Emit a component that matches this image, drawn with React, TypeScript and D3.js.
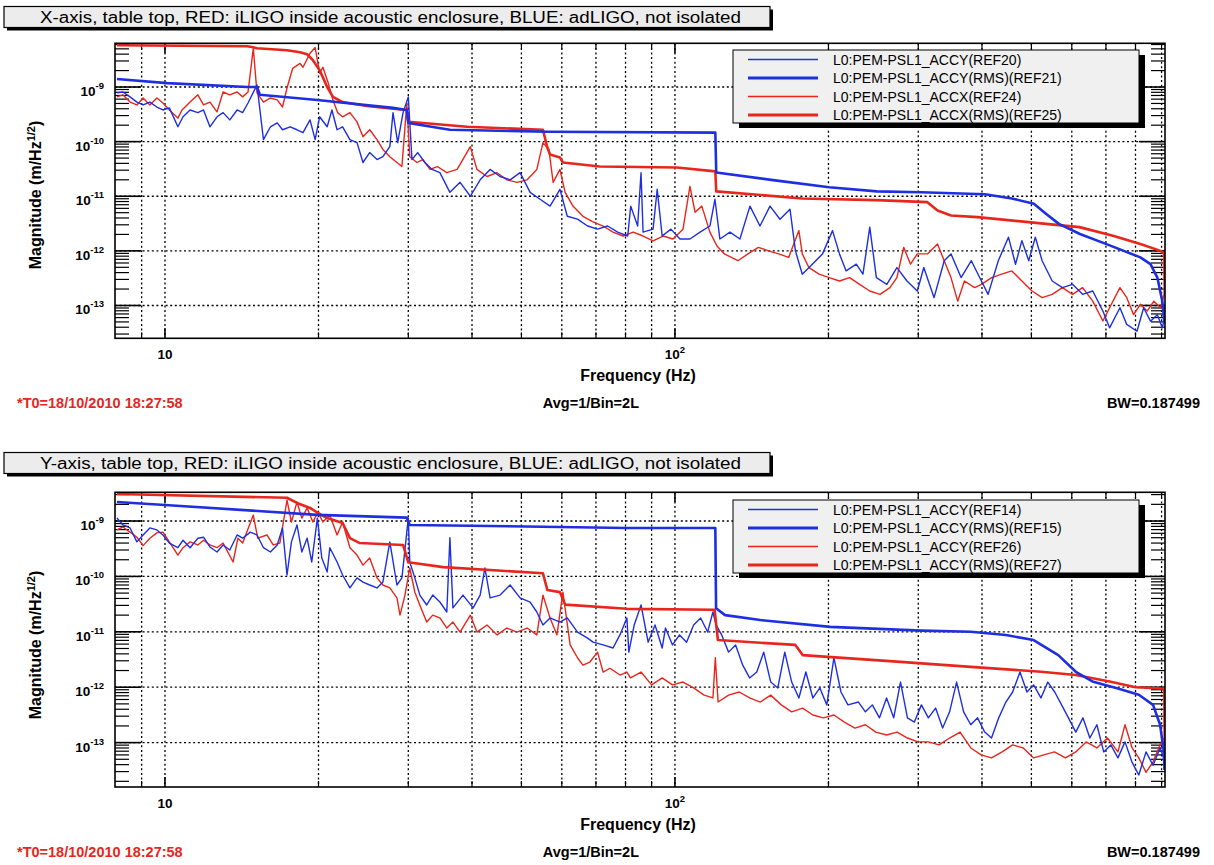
import React from "react";
import * as d3 from "d3";

type Pt = [number, number];

const FONT = "'Liberation Sans', Arial, Helvetica, sans-serif";
const BLUE = "#1d2fe0";
const RED = "#e8261c";

// ---------------- Panel 1 (X-axis) data: [frequency Hz, magnitude] ----------------
const xRef20: Pt[] = [
  [8.05,7.8e-10],[8.27,8.1e-10],[8.54,6.6e-10],[8.81,5.3e-10],[9.06,4.7e-10],[9.34,5.3e-10],[9.64,4.3e-10],[9.91,3.8e-10],
  [10.2,4.15e-10],[10.6,1.87e-10],[10.85,2.85e-10],[11.2,3.8e-10],[11.6,3.4e-10],[11.9,3.8e-10],[12.25,1.87e-10],[12.65,2.85e-10],
  [13.0,3.4e-10],[13.4,2.5e-10],[13.85,3.8e-10],[14.2,3.4e-10],[14.55,5.1e-10],[15.15,1.09e-9],[15.6,1.09e-10],[16.1,1.87e-10],
  [16.6,2.2e-10],[17.0,1.65e-10],[17.6,1.87e-10],[18.15,1.65e-10],[18.65,1.46e-10],[19.25,2.5e-10],[19.7,1.09e-10],[20.1,2.85e-10],
  [20.8,1.87e-10],[21.25,3.8e-10],[21.75,1.65e-10],[22.3,1.87e-10],[23.05,1.09e-10],[23.8,9.6e-11],[24.45,4.15e-11],[25.2,6.3e-11],
  [26.05,4.7e-11],[26.75,5.3e-11],[27.6,8.1e-11],[28.0,3.4e-10],[28.6,9.6e-11],[29.3,3.4e-10],[30.0,6.6e-10],[30.5,4.7e-11],
  [31.3,6.3e-11],[32.35,4.15e-11],[33.4,3.1e-11],[34.6,2.7e-11],[36.2,1.18e-11],[37.9,1.8e-11],[39.7,1.0e-11],[41.5,2.0e-11],
  [43.4,3.1e-11],[45.4,2.3e-11],[47.5,2.0e-11],[49.7,2.7e-11],[52.0,1.18e-11],[54.4,8.8e-12],[56.9,6.6e-12],[59.5,1.34e-11],
  [61.5,4.3e-12],[64.4,3.8e-12],[67.4,2.85e-12],[70.5,2.5e-12],[73.8,2.85e-12],[77.2,2.2e-12],[80.8,1.87e-12],[81.9,6.6e-12],
  [84.5,2.85e-12],[85.8,2.7e-11],[86.6,2.2e-12],[90.6,2.5e-12],[92.3,1.34e-11],[94.4,1.87e-12],[98.2,2.5e-12],[102.3,1.65e-12],
  [107.0,1.65e-12],[112.0,2.2e-12],[117.1,2.85e-12],[119.8,8.8e-12],[122.5,1.65e-12],[128.2,2.2e-12],[134.1,1.65e-12],[140.3,6.6e-12],
  [146.8,2.85e-12],[153.6,6.6e-12],[160.7,3.8e-12],[168.1,5.8e-12],[172.3,1.0e-12],[177.7,3.74e-13],[185.9,5.7e-13],[194.7,8.8e-13],
  [203.7,2.35e-12],[210.2,8.8e-13],[216.6,4.3e-13],[226.8,5.7e-13],[233.7,3.74e-13],[241,2.72e-12],[248.3,3.24e-13],[260.3,2.44e-13],
  [272.4,4.95e-13],[285.1,2.81e-13],[298.7,1.84e-13],[307.6,4.95e-13],[322.2,1.39e-13],[337.3,6.6e-13],[347.8,8.8e-13],[364,3.24e-13],
  [381.2,6.6e-13],[399,2.81e-13],[411.2,1.6e-13],[430.6,6.6e-13],[450.8,1.78e-12],[465.4,5.7e-13],[479,1.54e-12],[494,6.6e-13],
  [509,1.78e-12],[524.8,6.6e-13],[549.3,2.81e-13],[575.1,2.12e-13],[602,2.44e-13],[630.1,1.6e-13],[659.6,1.84e-13],[690.5,7.9e-14],
  [711.7,3.9e-14],[745.8,9.1e-14],[769,4.5e-14],[805.4,3.37e-14],[830,9.1e-14],[856.1,5.16e-14],[883,6.8e-14],[903,3.9e-14],[911,5.6e-14],
];

const xRef21: Pt[] = [
  [8.05,1.4e-9],[10.1,1.18e-9],[14.5,1.0e-9],[15.15,1.0e-9],[15.35,7.2e-10],[19.9,5.8e-10],[28.0,4.15e-10],[29.8,3.8e-10],
  [30.0,2.2e-10],[36.2,1.65e-10],[56.2,1.52e-10],[120,1.46e-10],[120.5,2.73e-11],[157.1,1.95e-11],[200.6,1.46e-11],[248.8,1.23e-11],
  [303.7,1.18e-11],[405.4,1.09e-11],[457.7,9.1e-12],[505.6,7.3e-12],[534,4.77e-12],[566,3.12e-12],[622.6,2.04e-12],[701.8,1.33e-12],
  [817.8,7.6e-13],[856.1,5.7e-13],[883,3.24e-13],[903,1.2e-13],[911,5.2e-14],
];

const xRef24: Pt[] = [
  [8.05,6.6e-10],[8.27,7.2e-10],[8.54,5.3e-10],[8.81,4.7e-10],[9.06,6.3e-10],[9.34,4.7e-10],[9.64,6.3e-10],[9.91,5.1e-10],
  [10.2,3.8e-10],[10.6,2.7e-10],[10.8,3.8e-10],[11.2,5.3e-10],[11.6,7.2e-10],[11.9,4.7e-10],[12.25,5.3e-10],[12.65,3.5e-10],
  [13.0,8.1e-10],[13.4,7.2e-10],[13.85,8.1e-10],[14.2,6.6e-10],[14.55,8.1e-10],[14.9,5.1e-9],[15.15,7.8e-10],[15.6,5.3e-10],
  [16.1,6.3e-10],[16.6,5.8e-10],[17.0,4.3e-10],[17.35,9.6e-10],[17.8,2.2e-9],[18.4,2.7e-9],[18.65,2.3e-9],[19.25,4.15e-9],
  [19.7,5.3e-9],[20.1,1.8e-9],[20.4,2.3e-9],[20.9,1.18e-9],[21.35,5.8e-10],[21.8,3.4e-10],[22.3,2.85e-10],[23.05,3.4e-10],
  [23.8,2.3e-10],[24.45,1.23e-10],[25.2,1.65e-10],[26.05,1.09e-10],[26.75,7.2e-11],[27.6,5.3e-11],[28.5,4.15e-11],[29.15,3.5e-11],
  [29.8,5.1e-10],[30.2,5.3e-11],[31.2,4.15e-11],[32.0,4.7e-11],[33.1,3.1e-11],[34.2,3.5e-11],[35.7,2.7e-11],[37.4,3.1e-11],
  [39.7,8.1e-11],[40.9,3.1e-11],[42.8,2.3e-11],[44.8,2.7e-11],[46.8,2.0e-11],[49.0,1.8e-11],[51.3,2.0e-11],[53.6,3.1e-11],
  [55.1,9.6e-11],[56.6,7.2e-11],[57.7,1.8e-11],[59.5,3.1e-11],[60.9,1.18e-11],[63.1,6.6e-12],[66.0,4.3e-12],[69.1,3.4e-12],
  [72.3,2.85e-12],[75.6,2.2e-12],[79.1,1.87e-12],[82.8,2.2e-12],[86.6,1.87e-12],[90.6,1.52e-12],[94.8,1.87e-12],[99.1,1.65e-12],
  [103.7,2.5e-12],[107,1.52e-11],[109.5,5.1e-12],[112.9,6.6e-12],[117.1,2.2e-12],[120.9,1.23e-12],[125,8.8e-13],[132.9,6.6e-13],
  [139,8.8e-13],[145.8,1.16e-12],[152.5,1.0e-12],[159.7,8.8e-13],[167.1,7.6e-13],[175,2.35e-12],[177.7,8.8e-13],[183.1,4.95e-13],
  [191.7,3.74e-13],[200.6,3.24e-13],[210.2,2.81e-13],[220,3.24e-13],[230.2,2.44e-13],[241,1.84e-13],[252.4,1.6e-13],[264,2.12e-13],
  [272.4,3.24e-13],[280.9,1.16e-12],[289.7,5.7e-13],[298.7,8.8e-13],[312.6,8.8e-13],[327.2,1.33e-12],[337.3,6.6e-13],[347.8,3.24e-13],
  [358.5,1.2e-13],[369.5,2.81e-13],[387,2.12e-13],[399,2.44e-13],[417.8,3.24e-13],[437.2,3.74e-13],[457.7,4.3e-13],[479,2.81e-13],
  [501.4,1.84e-13],[524.8,1.39e-13],[549.3,1.6e-13],[575.1,2.12e-13],[602,1.6e-13],[630.1,2.12e-13],[659.6,1.2e-13],[690.5,5.2e-14],
  [711.7,9.1e-14],[745.8,2.12e-13],[769,1.39e-13],[793,6.8e-14],[817.8,1.05e-13],[843.2,7.9e-14],[869.2,1.2e-13],[896,9.1e-14],[911,1.6e-13],
];

const xRef25: Pt[] = [
  [8.05,5.8e-9],[14.5,5.56e-9],[14.9,5.34e-9],[15.15,5.12e-9],[17.35,4.71e-9],[18.4,4.33e-9],[19.0,3.98e-9],[19.5,3.1e-9],
  [20.1,2.04e-9],[20.8,1.0e-9],[21.35,6.6e-10],[22.3,5.3e-10],[24.9,4.5e-10],[28.0,4.0e-10],[29.8,3.8e-10],[30.0,2.31e-10],
  [39.1,1.87e-10],[55.1,1.65e-10],[56.2,7.8e-11],[56.9,5.8e-11],[59.5,5.1e-11],[60.3,4.15e-11],[71.2,3.5e-11],[100.9,3.37e-11],
  [120,2.85e-11],[120.5,1.23e-11],[177.7,9.1e-12],[248.8,8.5e-12],[312.6,7.8e-12],[327.2,5.5e-12],[347.8,4.44e-12],[392,4.15e-12],
  [534,3.12e-12],[621,2.72e-12],[722.7,1.9e-12],[817.8,1.33e-12],[896,1.0e-12],[911,8.8e-13],[913,1.5e-13],
];

// ---------------- Panel 2 (Y-axis) data ----------------
const yRef14: Pt[] = [
  [8.05,1.13e-9],[8.27,8.5e-10],[8.54,7.5e-10],[8.81,4.2e-10],[9.06,5.6e-10],[9.34,7.5e-10],[9.64,6.9e-10],[9.91,5.6e-10],
  [10.2,4.0e-10],[10.6,3.3e-10],[10.85,4.5e-10],[11.2,3.3e-10],[11.6,4.9e-10],[11.9,5.1e-10],[12.25,3.4e-10],[12.65,2.76e-10],
  [13.0,3.7e-10],[13.4,3.0e-10],[13.85,5.6e-10],[14.2,4.9e-10],[14.7,6.3e-10],[15.15,5.6e-10],[15.6,3.3e-10],[16.1,2.76e-10],
  [16.6,3.7e-10],[17.0,7.5e-10],[17.35,1.06e-10],[17.7,4.2e-10],[18.15,8.5e-10],[18.55,2.76e-10],[19.0,4.9e-10],[19.4,1.82e-10],
  [19.9,1.13e-9],[20.3,2.15e-10],[20.8,1.2e-10],[21.05,3.3e-10],[21.75,1.82e-10],[22.3,1.06e-10],[23.05,6.2e-11],[23.8,9.4e-11],
  [24.45,7.9e-11],[25.2,7.0e-11],[26.05,6.2e-11],[26.75,7.9e-11],[27.6,4.2e-10],[28.5,7.0e-11],[29.15,9.4e-11],[30.0,1.13e-9],
  [30.2,1.82e-10],[30.9,9.4e-11],[31.6,4.6e-11],[32.6,3.05e-11],[33.5,4.6e-11],[34.6,3.45e-11],[35.7,2.28e-11],[36.2,5.0e-10],
  [36.7,2.7e-11],[38.4,4.6e-11],[40.2,2.7e-11],[41.5,4.6e-11],[42.4,1.42e-10],[43.4,4.1e-11],[45.4,4.6e-11],[47.5,7.0e-11],
  [49.7,4.1e-11],[52.0,3.45e-11],[53.6,2.28e-11],[55.1,1.33e-11],[56.9,1.78e-11],[59.5,1.5e-11],[61.5,1.78e-11],[64.4,9.9e-12],
  [67.4,7.7e-12],[69.1,6.5e-12],[72.3,5.8e-12],[75.6,5.1e-12],[78.0,8.8e-12],[80.5,1.78e-11],[81.2,4.3e-12],[83.2,1.33e-11],
  [85.8,3.05e-11],[88.6,6.5e-12],[91.4,1.33e-11],[94.4,5.1e-12],[95.8,1.17e-11],[98.9,5.8e-12],[102.1,8.8e-12],[105.4,6.5e-12],
  [108.8,1.33e-11],[112.3,1.78e-11],[115.9,9.9e-12],[118.7,2.28e-11],[120.4,1.33e-11],[123.5,8.8e-12],[127.4,4.3e-12],[131.5,5.8e-12],
  [135.8,2.5e-12],[140.1,1.47e-12],[144.7,1.88e-12],[149.3,4.3e-12],[154.1,1.24e-12],[159.1,9.7e-13],[164.2,4.3e-12],[169.4,1.24e-12],
  [175,6.4e-13],[180.6,1.88e-12],[186.4,6.4e-13],[192.4,9.7e-13],[198.5,4.8e-13],[205,3.4e-12],[211.6,8.2e-13],[218.4,4.8e-13],
  [229,5.4e-13],[236.3,3.6e-13],[243.8,4.8e-13],[251.8,2.8e-13],[260,6.4e-13],[268.5,2.8e-13],[276.9,1.24e-12],[285.7,2.8e-13],
  [294.8,2.35e-13],[304.3,4.8e-13],[314,2.8e-13],[324.4,4.2e-13],[334.9,1.83e-13],[345.6,3.6e-13],[356.7,1.24e-12],[368.2,3.6e-13],
  [380.3,2.1e-13],[392.1,2.8e-13],[405,1.55e-13],[417.6,1.21e-13],[431.4,2.8e-13],[445.6,5.4e-13],[459.4,8.2e-13],[474.9,1.88e-12],
  [490,8.2e-13],[505,1.1e-12],[522,6.4e-13],[538.5,1.24e-12],[555.5,8.2e-13],[573,4.8e-13],[591,2.8e-13],[611,1.55e-13],
  [631,2.8e-13],[651,1.21e-13],[672,2.1e-13],[693,6.8e-14],[715.6,9.1e-14],[739,5.3e-14],[763,1.03e-13],[787,4.5e-14],
  [812,2.6e-14],[839,6.8e-14],[866,3.9e-14],[894,8.0e-14],[909,5.3e-14],
];

const yRef15: Pt[] = [
  [8.05,2.2e-9],[10,1.95e-9],[19.9,1.29e-9],[29.8,1.15e-9],[30.2,8.5e-10],[80.5,7.5e-10],[120,7.5e-10],[120.4,2.67e-11],
  [125.4,2.0e-11],[147,1.63e-11],[201.6,1.23e-11],[304.3,1.05e-11],[380.3,1.0e-11],[445.6,8.75e-12],[505,7.1e-12],[564.5,3.8e-12],
  [611,1.9e-12],[661,1.25e-12],[739,9.5e-13],[812,7.3e-13],[866,4.8e-13],[894,2.1e-13],[909,6.9e-14],[912,3.2e-14],
];

const yRef26: Pt[] = [
  [8.05,6.9e-10],[8.27,7.8e-10],[8.54,6.3e-10],[8.81,5.1e-10],[9.06,3.6e-10],[9.34,4.9e-10],[9.64,6.1e-10],[9.91,6.3e-10],
  [10.2,4.2e-10],[10.6,2.43e-10],[10.85,3.3e-10],[11.2,4.2e-10],[11.6,3.7e-10],[11.9,4.5e-10],[12.25,3.7e-10],[12.65,3.3e-10],
  [13.0,4.0e-10],[13.6,1.82e-10],[13.9,4.9e-10],[14.2,4.0e-10],[14.9,1.28e-9],[15.2,4.9e-10],[15.85,5.6e-10],[16.3,3.7e-10],
  [16.8,4.0e-10],[17.35,2.39e-9],[17.7,9.6e-10],[18.15,2.2e-9],[18.55,1.13e-9],[19.0,1.72e-9],[19.5,9.6e-10],[19.95,1.45e-9],
  [20.4,9.6e-10],[21.05,1.28e-9],[21.75,5.6e-10],[22.3,9.6e-10],[23.05,3.3e-10],[23.8,2.43e-10],[24.45,1.6e-10],[25.2,2.15e-10],
  [26.05,9.4e-11],[26.75,7.0e-11],[27.6,6.2e-11],[28.5,4.1e-11],[28.9,2.0e-11],[29.55,4.6e-11],[30.2,1.42e-10],[30.9,5.2e-11],
  [31.6,3.05e-11],[32.6,1.5e-11],[33.5,2.0e-11],[34.6,1.78e-11],[35.7,1.17e-11],[36.7,1.5e-11],[37.9,9.9e-12],[39.7,2.0e-11],
  [40.9,9.9e-12],[42.8,1.33e-11],[44.8,8.8e-12],[46.8,1.17e-11],[49.0,9.9e-12],[51.3,1.17e-11],[53.6,8.8e-12],[55.1,4.6e-11],
  [56.9,1.78e-11],[58.7,8.8e-12],[60.3,5.2e-11],[62.3,5.8e-12],[64.4,3.4e-12],[66.0,2.5e-12],[68.1,2.85e-12],[70.5,4.3e-12],
  [72.3,1.88e-12],[74.6,2.2e-12],[78.0,1.66e-12],[80.5,1.88e-12],[81.8,1.47e-12],[85.8,1.88e-12],[90.0,1.1e-12],[94.4,1.47e-12],
  [98.9,1.1e-12],[103.7,1.24e-12],[108.8,9.7e-13],[114.1,7.2e-13],[118.7,6.4e-13],[120,3.4e-12],[121.5,5.4e-13],[127.4,7.2e-13],
  [133.7,8.2e-13],[140.1,6.4e-13],[147,5.4e-13],[154.1,7.2e-13],[161.6,4.8e-13],[169.4,3.6e-13],[178,4.2e-13],[186.4,3.15e-13],
  [195.4,2.8e-13],[205,3.15e-13],[214.9,2.35e-13],[225.4,1.83e-13],[236.3,2.1e-13],[247.7,1.55e-13],[260,1.37e-13],[272.6,1.55e-13],
  [285.7,1.21e-13],[299.6,1.03e-13],[314,1.03e-13],[329.6,9.1e-14],[345.6,1.21e-13],[362.4,1.55e-13],[380.3,8.0e-14],[398.5,6.0e-14],
  [417.6,5.3e-14],[438,6.8e-14],[459.4,9.1e-14],[482,8.0e-14],[505,5.3e-14],[529,6.0e-14],[555,6.8e-14],[583,5.3e-14],
  [611,6.8e-14],[640,1.03e-13],[672,8.0e-14],[705,1.21e-13],[739,6.8e-14],[763,2.1e-13],[788,8.0e-14],[812,5.3e-14],
  [839,2.9e-14],[866,4.5e-14],[894,9.1e-14],[909,1.21e-13],
];

const yRef27: Pt[] = [
  [8.05,3.07e-9],[17.35,2.63e-9],[18.15,2.12e-9],[19.25,1.72e-9],[19.95,1.4e-9],[20.8,1.13e-9],[22.3,9.2e-10],[23.05,4.9e-10],
  [24.1,4.0e-10],[29.3,3.7e-10],[30.0,1.8e-10],[35.1,1.47e-10],[55.1,1.14e-10],[56.2,5.7e-11],[59.5,5.2e-11],[60.9,3.1e-11],
  [80.5,2.6e-11],[119.6,2.5e-11],[121.4,7.1e-12],[172.2,5.8e-12],[178,3.8e-12],[276.9,2.87e-12],[380.3,2.33e-12],[522,1.9e-12],
  [611,1.66e-12],[715.6,1.25e-12],[800,1.0e-12],[900,9.5e-13],[911,9.5e-13],[913,9e-14],
];

// ---------------- texts and axis values ----------------
const titleTop = "X-axis, table top, RED: iLIGO inside acoustic enclosure, BLUE: adLIGO, not isolated";
const titleBottom = "Y-axis, table top, RED: iLIGO inside acoustic enclosure, BLUE: adLIGO, not isolated";
const legendTop = ["L0:PEM-PSL1_ACCY(REF20)", "L0:PEM-PSL1_ACCY(RMS)(REF21)", "L0:PEM-PSL1_ACCX(REF24)", "L0:PEM-PSL1_ACCX(RMS)(REF25)"];
const legendBottom = ["L0:PEM-PSL1_ACCY(REF14)", "L0:PEM-PSL1_ACCY(RMS)(REF15)", "L0:PEM-PSL1_ACCY(REF26)", "L0:PEM-PSL1_ACCY(RMS)(REF27)"];
const xTickLabels = [{ v: 10, exp: "" }, { v: 100, exp: "2" }];
const yDecadeExps = [-9, -10, -11, -12, -13];
const xDomain: [number, number] = [7.98, 914];
const yDomainTop: [number, number] = [2.507e-14, 6.316e-9];
const yDomainBottom: [number, number] = [1.58e-14, 3.3e-9];
const footerLeft = "*T0=18/10/2010 18:27:58";
const footerMid = "Avg=1/Bin=2L";
const footerRight = "BW=0.187499";
const xTitle = "Frequency (Hz)";

interface SeriesSpec { data: Pt[]; color: string; width: number; }
interface PanelProps {
  id: string;
  title: string;
  legend: string[];
  series: SeriesSpec[]; // legend order: thin blue, rms blue, thin red, rms red
  yDomain: [number, number];
  top: number;
  bottom: number;
  titleY: number;
  legendY: number;
  xTitleY: number;
  footerY: number;
  yTitleY: number;
}

const L = 115, R = 1165;

function Panel(p: PanelProps) {
  const xs = d3.scaleLog().domain(xDomain).range([L, R]);
  const ys = d3.scaleLog().domain(p.yDomain).range([p.bottom, p.top]);
  const line = d3.line<Pt>().x(d => xs(d[0])).y(d => ys(d[1]));

  const xTicks: { v: number; major: boolean }[] = [];
  for (let e = 0; e <= 2; e++) for (let k = 1; k <= 9; k++) {
    const v = k * Math.pow(10, e);
    if (v > xDomain[0] * 1.01 && v < xDomain[1]) xTicks.push({ v, major: k === 1 });
  }
  const yTicks: { v: number; major: boolean }[] = [];
  for (let e = -15; e <= -8; e++) for (let k = 1; k <= 9; k++) {
    const v = k * Math.pow(10, e);
    if (v >= p.yDomain[0] && v <= p.yDomain[1]) yTicks.push({ v, major: k === 1 });
  }
  const H = p.bottom - p.top;
  const drawOrder = [2, 0, 3, 1];
  const lgX = 733, lgW = 406, lgH = 73;
  const rowY = [9.5, 28, 46.5, 65];

  return (
    <g>
      {/* title box */}
      <rect x={7} y={p.titleY + 3} width={766} height={21} fill="#000" />
      <rect x={4} y={p.titleY} width={766} height={21} fill="#ececec" stroke="#000" strokeWidth={1.2} />
      <text x={40} y={p.titleY + 16} fontFamily={FONT} fontSize={16} textLength={701} lengthAdjust="spacingAndGlyphs" fill="#000">{p.title}</text>

      <defs>
        <clipPath id={`clip-${p.id}`}>
          <rect x={L} y={p.top} width={R - L} height={H} />
        </clipPath>
      </defs>

      {/* grid */}
      {xTicks.map((t, i) => (
        <line key={`gx${i}`} x1={xs(t.v)} x2={xs(t.v)} y1={p.top} y2={p.bottom} stroke="#000" strokeWidth={1.3} strokeDasharray="2 2.6" />
      ))}
      {yDecadeExps.map(e => (
        <line key={`gy${e}`} x1={L} x2={R} y1={ys(Math.pow(10, e))} y2={ys(Math.pow(10, e))} stroke="#000" strokeWidth={1.3} strokeDasharray="2 2.6" />
      ))}

      {/* ticks */}
      {yTicks.map((t, i) => {
        const y = ys(t.v);
        const len = t.major ? 26 : 14;
        return (
          <g key={`ty${i}`}>
            <line x1={L} x2={L + len} y1={y} y2={y} stroke="#000" strokeWidth={t.major ? 1.6 : 1.2} />
            <line x1={R} x2={R - len} y1={y} y2={y} stroke="#000" strokeWidth={t.major ? 1.6 : 1.2} />
          </g>
        );
      })}
      {xTicks.map((t, i) => {
        const x = xs(t.v);
        const len = t.major ? 10 : 6;
        return (
          <g key={`tx${i}`}>
            <line x1={x} x2={x} y1={p.bottom} y2={p.bottom - len} stroke="#000" strokeWidth={t.major ? 1.6 : 1.2} />
            <line x1={x} x2={x} y1={p.top} y2={p.top + len} stroke="#000" strokeWidth={t.major ? 1.6 : 1.2} />
          </g>
        );
      })}

      {/* data */}
      <g clipPath={`url(#clip-${p.id})`}>
        {drawOrder.map(i => (
          <path key={`s${i}`} d={line(p.series[i].data) || ""} fill="none" stroke={p.series[i].color}
            strokeWidth={p.series[i].width} strokeLinejoin="round" />
        ))}
      </g>

      {/* frame */}
      <rect x={L} y={p.top} width={R - L} height={H} fill="none" stroke="#000" strokeWidth={1.6} />

      {/* y tick labels */}
      {yDecadeExps.map(e => {
        const y = ys(Math.pow(10, e));
        return (
          <text key={`ly${e}`} x={104} y={y + 9} textAnchor="end" fontFamily={FONT} fontWeight="bold" fontSize={13.5} fill="#000">
            10<tspan dy={-7} fontSize={9.5}>{String(e)}</tspan>
          </text>
        );
      })}
      {/* x tick labels */}
      {xTickLabels.map(t => (
        <text key={`lx${t.v}`} x={xs(t.v)} y={p.bottom + 20.5} textAnchor="middle" fontFamily={FONT} fontWeight="bold" fontSize={13.5} fill="#000">
          10{t.exp ? <tspan dy={-6} fontSize={9.5}>{t.exp}</tspan> : null}
        </text>
      ))}

      {/* axis titles */}
      <text x={638} y={p.xTitleY} textAnchor="middle" fontFamily={FONT} fontWeight="bold" fontSize={16} fill="#000">{xTitle}</text>
      <text transform={`translate(41,${p.yTitleY}) rotate(-90)`} textAnchor="middle" fontFamily={FONT} fontWeight="bold" fontSize={16} fill="#000">
        Magnitude (m/Hz<tspan dy={-6} fontSize={11}>1/2</tspan><tspan dy={6}>)</tspan>
      </text>

      {/* legend */}
      <rect x={lgX + 6} y={p.legendY + 5} width={lgW} height={lgH} fill="#000" />
      <rect x={lgX} y={p.legendY} width={lgW} height={lgH} fill="#f0f0f0" stroke="#000" strokeWidth={1} />
      {p.legend.map((lab, i) => (
        <g key={`lg${i}`}>
          <line x1={748} x2={818} y1={p.legendY + rowY[i]} y2={p.legendY + rowY[i]} stroke={p.series[i].color}
            strokeWidth={p.series[i].width > 2 ? 3 : 1.5} />
          <text x={833} y={p.legendY + rowY[i] + 5} fontFamily={FONT} fontSize={14} fill="#000">{lab}</text>
        </g>
      ))}

      {/* footers */}
      <text x={17} y={p.footerY} fontFamily={FONT} fontWeight="bold" fontSize={14.5} fill="#e8261c">{footerLeft}</text>
      <text x={639} y={p.footerY} textAnchor="end" fontFamily={FONT} fontWeight="bold" fontSize={14.5} fill="#000">{footerMid}</text>
      <text x={1200} y={p.footerY} textAnchor="end" fontFamily={FONT} fontWeight="bold" fontSize={14.5} fill="#000">{footerRight}</text>
    </g>
  );
}

export default function App() {
  const thin = 1.4, rms = 2.6;
  return (
    <div style={{ position: "absolute", left: 0, top: 0 }}>
      <svg width={1214} height={865} style={{ display: "block", background: "#fff" }}>
        <rect x={0} y={0} width={1214} height={865} fill="#fff" />
        <Panel
          id="top"
          title={titleTop}
          legend={legendTop}
          series={[
            { data: xRef20, color: BLUE, width: thin },
            { data: xRef21, color: BLUE, width: rms },
            { data: xRef24, color: RED, width: thin },
            { data: xRef25, color: RED, width: rms },
          ]}
          yDomain={yDomainTop}
          top={43.3}
          bottom={338.3}
          titleY={6.5}
          legendY={50}
          xTitleY={381}
          footerY={408}
          yTitleY={195}
        />
        <Panel
          id="bottom"
          title={titleBottom}
          legend={legendBottom}
          series={[
            { data: yRef14, color: BLUE, width: thin },
            { data: yRef15, color: BLUE, width: rms },
            { data: yRef26, color: RED, width: thin },
            { data: yRef27, color: RED, width: rms },
          ]}
          yDomain={yDomainBottom}
          top={492.3}
          bottom={787}
          titleY={452.5}
          legendY={500}
          xTitleY={830}
          footerY={857}
          yTitleY={645}
        />
      </svg>
    </div>
  );
}
